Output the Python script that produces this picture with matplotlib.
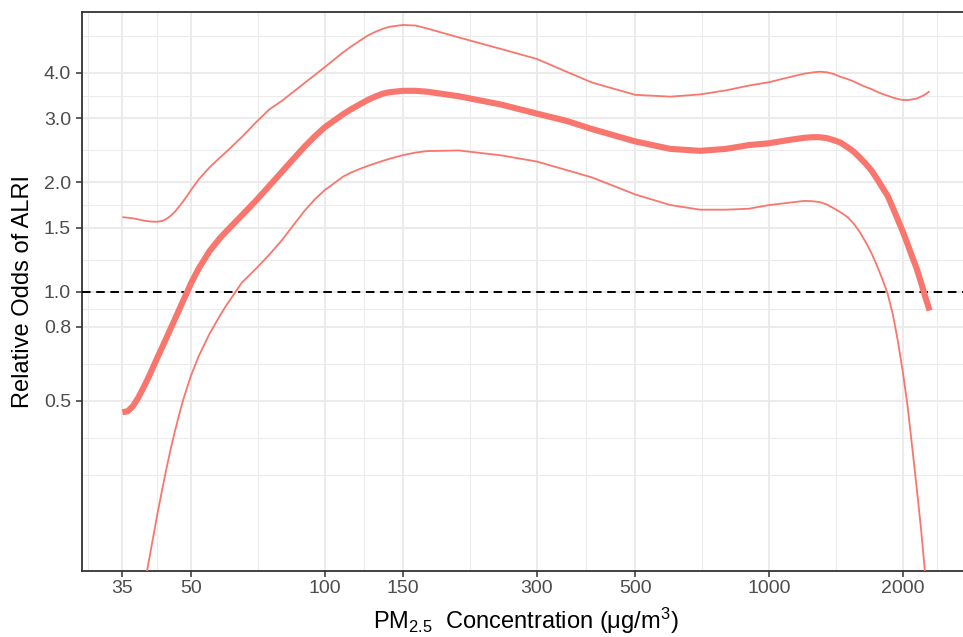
import numpy as np
import matplotlib
matplotlib.use("Agg")
import matplotlib.pyplot as plt
from matplotlib.ticker import FixedLocator, NullFormatter, FixedFormatter

plt.rcParams['font.family'] = ['Liberation Sans', 'DejaVu Sans']
plt.rcParams['mathtext.default'] = 'regular'

# ---- data ----
pm = [35, 36, 37, 38, 39, 40, 41, 42, 43, 44, 45, 46, 47, 48, 49, 50,
      52, 55, 58, 60, 65, 70, 75, 80, 85, 90, 95,
      100, 110, 115, 120, 125, 130, 135, 140, 150, 160, 170, 200, 250, 300, 350, 400,
      500, 600, 700, 800, 900, 1000, 1100,
      1200, 1250, 1300, 1350, 1400, 1450, 1500, 1550, 1600, 1650, 1700, 1750,
      1800, 1850, 1900, 1950, 2000, 2050, 2100, 2150, 2200, 2250, 2300]
odds = [0.465, 0.468, 0.484, 0.510, 0.542, 0.577, 0.617, 0.659, 0.701, 0.746,
        0.793, 0.841, 0.892, 0.945, 0.998, 1.056,
        1.157, 1.292, 1.401, 1.465, 1.620, 1.780, 1.955, 2.135, 2.32, 2.505, 2.677,
        2.835, 3.08, 3.185, 3.28, 3.37, 3.445, 3.505, 3.54, 3.57, 3.57, 3.55, 3.45,
        3.27, 3.09, 2.95, 2.80,
        2.59, 2.47, 2.44, 2.47, 2.53, 2.56, 2.61,
        2.65, 2.66, 2.66, 2.644, 2.61, 2.57, 2.50, 2.43, 2.34, 2.25, 2.156, 2.045,
        1.934, 1.834, 1.702, 1.578, 1.465, 1.354, 1.249, 1.158, 1.058, 0.965, 0.886]
upper = [1.602, 1.597, 1.590, 1.580, 1.569, 1.561, 1.557, 1.557, 1.564, 1.584,
         1.618, 1.661, 1.715, 1.773, 1.836, 1.905,
         2.036, 2.197, 2.336, 2.425, 2.662, 2.925, 3.173, 3.349, 3.55, 3.75, 3.95,
         4.15, 4.56, 4.74, 4.91, 5.07, 5.19, 5.29, 5.36, 5.42, 5.40, 5.30, 5.01,
         4.65, 4.37, 4.03, 3.76,
         3.48, 3.44, 3.49, 3.58, 3.69, 3.77, 3.88,
         3.98, 4.01, 4.03, 4.015, 3.97, 3.90, 3.85, 3.79, 3.72, 3.66, 3.61, 3.55,
         3.50, 3.46, 3.42, 3.39, 3.37, 3.365, 3.38, 3.40, 3.44, 3.49, 3.56]
lower = [0.0632, 0.0793, 0.0991, 0.121, 0.147, 0.1766, 0.2085, 0.245, 0.284, 0.326,
         0.370, 0.414, 0.459, 0.504, 0.546, 0.588,
         0.664, 0.765, 0.857, 0.916, 1.057, 1.156, 1.264, 1.384, 1.524, 1.668, 1.796,
         1.903, 2.073, 2.131, 2.177, 2.218, 2.255, 2.289, 2.321, 2.375, 2.413, 2.436, 2.446,
         2.37, 2.28, 2.16, 2.06,
         1.85, 1.73, 1.68, 1.68, 1.69, 1.73, 1.754,
         1.776, 1.773, 1.763, 1.737, 1.694, 1.652, 1.606, 1.541, 1.459, 1.370, 1.278, 1.179,
         1.082, 0.986, 0.866, 0.732, 0.604, 0.487, 0.375, 0.289, 0.2215, 0.164, 0.12]

x_breaks = [35, 50, 100, 150, 300, 500, 1000, 2000]
x_labels = ["35", "50", "100", "150", "300", "500", "1000", "2000"]
y_breaks = [0.5, 0.8, 1.0, 1.5, 2.0, 3.0, 4.0]
y_labels = ["0.5", "0.8", "1.0", "1.5", "2.0", "3.0", "4.0"]
y_limits = [0.2, 5.0]
ref_line = 1.0

col = '#F8766D'

W, H = 963, 637
fig = plt.figure(figsize=(W / 100, H / 100), dpi=100)
left, right, top, bottom = 82, 970, 12.3, 570.7
ax = fig.add_axes([left / W, (H - bottom) / H, (right - left) / W, (bottom - top) / H])
ax.set_xscale('log')
ax.set_yscale('log')

def expand(lo, hi, f=0.05):
    a, b = np.log10(lo), np.log10(hi)
    d = (b - a) * f
    return 10 ** (a - d), 10 ** (b + d)

ax.set_xlim(*expand(min(pm), max(pm)))
ax.set_ylim(*expand(*y_limits))

def minor_breaks(b):
    lb = np.log10(b)
    bd = lb[1] - lb[0]
    ext = np.concatenate([[lb[0] - bd], lb, [lb[-1] + bd]])
    mids = (ext[:-1] + ext[1:]) / 2
    allm = np.concatenate([mids, [ext[0], ext[-1]]])
    return list(10 ** allm)

ax.xaxis.set_major_locator(FixedLocator(x_breaks))
ax.xaxis.set_major_formatter(FixedFormatter(x_labels))
ax.xaxis.set_minor_locator(FixedLocator(minor_breaks(x_breaks)))
ax.xaxis.set_minor_formatter(NullFormatter())
ax.yaxis.set_major_locator(FixedLocator(y_breaks))
ax.yaxis.set_major_formatter(FixedFormatter(y_labels))
ax.yaxis.set_minor_locator(FixedLocator(minor_breaks(y_breaks)))
ax.yaxis.set_minor_formatter(NullFormatter())

ax.grid(which='major', color='#EBEBEB', lw=1.5, zorder=0)
ax.grid(which='minor', color='#EBEBEB', lw=0.75, zorder=0)
ax.set_axisbelow(True)

ax.tick_params(which='minor', length=0)
ax.tick_params(which='major', direction='out', length=4, width=1.1,
               color='#333333', labelcolor='#4D4D4D', labelsize=14)
ax.tick_params(axis='x', pad=2.5)
ax.tick_params(axis='y', pad=4)
for s in ax.spines.values():
    s.set_color('#333333')
    s.set_linewidth(1.3)

ax.axhline(ref_line, color='black', lw=1.4, dashes=(4.4, 2.9), zorder=3)
ax.plot(pm, upper, color=col, lw=1.3, solid_capstyle='butt',
        solid_joinstyle='round', zorder=4)
ax.plot(pm, lower, color=col, lw=1.3, solid_capstyle='butt',
        solid_joinstyle='round', zorder=4)
ax.plot(pm, odds, color=col, lw=4.4, solid_capstyle='butt',
        solid_joinstyle='round', zorder=5)

ax.set_xlabel('PM$_{2.5}$  Concentration (μg/m$^3$)', fontsize=17, color='black')
ax.set_ylabel('Relative Odds of ALRI', fontsize=17, color='black')
ax.xaxis.set_label_coords((526 - left) / (right - left), (bottom - 606) / (bottom - top))
ax.yaxis.set_label_coords((34 - left) / (right - left), 0.5)

fig.savefig('out.png', dpi=100)
